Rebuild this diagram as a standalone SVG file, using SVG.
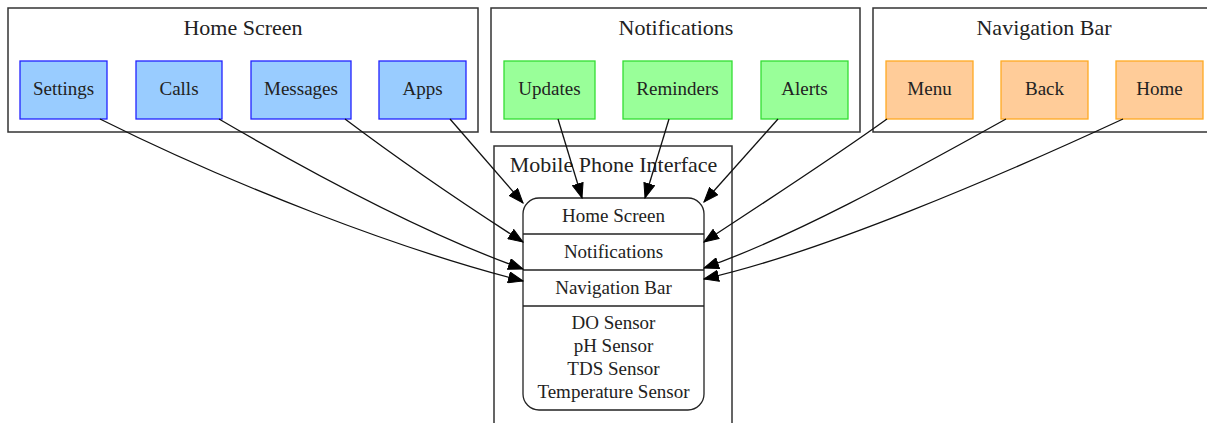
<svg xmlns="http://www.w3.org/2000/svg" width="1207" height="423" viewBox="0 0 1207 423">
<style>
  text { font-family: "Liberation Serif", "Times New Roman", serif; fill: #222; text-anchor: middle; }
  .title { font-size: 22px; }
  .lbl { font-size: 19px; }
  .cluster { fill: #fff; stroke: #333; stroke-width: 1.5; }
  .blue { fill: #99ccff; stroke: #2222ff; stroke-width: 1.3; }
  .green { fill: #99ff99; stroke: #33dd33; stroke-width: 1.3; }
  .orange { fill: #ffcc99; stroke: #ffaa22; stroke-width: 1.3; }
  .edge { fill: none; stroke: #111; stroke-width: 1.3; }
  .rec { fill: #fff; stroke: #222; stroke-width: 1.3; }
</style>
<defs>
  <marker id="arr" markerUnits="userSpaceOnUse" markerWidth="16" markerHeight="12" refX="15" refY="6" orient="auto" viewBox="0 0 16 12">
    <path d="M0.5,0.5 L15,6 L0.5,11.5 Z" fill="#000" stroke="#000" stroke-width="1"/>
  </marker>
</defs>
<rect width="1207" height="423" fill="#fff"/>

<g id="cluster-home">
  <rect class="cluster" x="8" y="8" width="470" height="124"/>
  <text class="title" x="243" y="35">Home Screen</text>
</g>
<g id="cluster-notifications">
  <rect class="cluster" x="491" y="8" width="369" height="124"/>
  <text class="title" x="676" y="35">Notifications</text>
</g>
<g id="cluster-navbar">
  <rect class="cluster" x="873" y="8" width="345" height="124"/>
  <text class="title" x="1044" y="35">Navigation Bar</text>
</g>
<g id="cluster-mobile">
  <rect class="cluster" x="494" y="146" width="238" height="290"/>
  <text class="title" x="613.5" y="172">Mobile Phone Interface</text>
</g>

<g id="settings"><rect class="blue" x="20" y="61" width="87" height="58"/><text class="lbl" x="63.5" y="95">Settings</text></g>
<g id="calls"><rect class="blue" x="136" y="61" width="86" height="58"/><text class="lbl" x="179" y="95">Calls</text></g>
<g id="messages"><rect class="blue" x="251" y="61" width="100" height="58"/><text class="lbl" x="301" y="95">Messages</text></g>
<g id="apps"><rect class="blue" x="379" y="61" width="87" height="58"/><text class="lbl" x="422.5" y="95">Apps</text></g>

<g id="updates"><rect class="green" x="504" y="61" width="91" height="58"/><text class="lbl" x="549.5" y="95">Updates</text></g>
<g id="reminders"><rect class="green" x="623" y="61" width="109" height="58"/><text class="lbl" x="677.5" y="95">Reminders</text></g>
<g id="alerts"><rect class="green" x="761" y="61" width="87" height="58"/><text class="lbl" x="804.5" y="95">Alerts</text></g>

<g id="menu"><rect class="orange" x="886" y="61" width="87" height="58"/><text class="lbl" x="929.5" y="95">Menu</text></g>
<g id="back"><rect class="orange" x="1001" y="61" width="87" height="58"/><text class="lbl" x="1044.5" y="95">Back</text></g>
<g id="home"><rect class="orange" x="1116" y="61" width="87" height="58"/><text class="lbl" x="1159.5" y="95">Home</text></g>

<g id="mobile-interface">
  <rect class="rec" x="523" y="198" width="181" height="212" rx="16" ry="16"/>
  <line class="rec" x1="523" y1="234" x2="704" y2="234"/>
  <line class="rec" x1="523" y1="270" x2="704" y2="270"/>
  <line class="rec" x1="523" y1="306" x2="704" y2="306"/>
  <text class="lbl" x="613.5" y="222">Home Screen</text>
  <text class="lbl" x="613.5" y="258">Notifications</text>
  <text class="lbl" x="613.5" y="294">Navigation Bar</text>
  <text class="lbl" x="613.5" y="329">DO Sensor</text>
  <text class="lbl" x="613.5" y="352">pH Sensor</text>
  <text class="lbl" x="613.5" y="375">TDS Sensor</text>
  <text class="lbl" x="613.5" y="398">Temperature Sensor</text>
</g>

<g id="connectors">
  <path class="edge" marker-end="url(#arr)" d="M100,119 C230,184 400,250 523,281"/>
  <path class="edge" marker-end="url(#arr)" d="M219,119 C320,178 430,236 523,269"/>
  <path class="edge" marker-end="url(#arr)" d="M345,119 C410,168 470,208 523,242"/>
  <path class="edge" marker-end="url(#arr)" d="M450,119 L523,203"/>
  <path class="edge" marker-end="url(#arr)" d="M558,119 L582,198"/>
  <path class="edge" marker-end="url(#arr)" d="M669,119 L645,198"/>
  <path class="edge" marker-end="url(#arr)" d="M778,119 L704,202"/>
  <path class="edge" marker-end="url(#arr)" d="M887,119 C830,160 760,205 704,242"/>
  <path class="edge" marker-end="url(#arr)" d="M1006,119 C900,178 790,238 704,268"/>
  <path class="edge" marker-end="url(#arr)" d="M1123,119 C1000,176 820,253 704,279"/>
</g>
</svg>
